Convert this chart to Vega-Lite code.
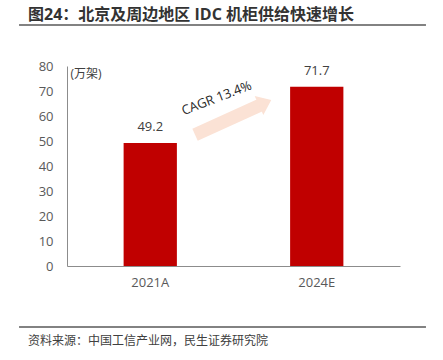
{
  "$schema": "https://vega.github.io/schema/vega-lite/v6.json",
  "width": 333,
  "height": 200,
  "autosize": "none",
  "padding": {"left": 67, "top": 66, "right": 43, "bottom": 94},
  "background": "white",
  "datasets": {
    "bars": [
      {"year": "2021A", "value": 49.2},
      {"year": "2024E", "value": 71.7}
    ],
    "arrow": [
      {"x": 0.769, "y": 52.5},
      {"x": 1.159, "y": 64.3}
    ],
    "arrowhead": [
      {"x": 1.19, "y": 65.3}
    ],
    "cagr": [
      {"x": 0.899, "y": 67.1, "label": "CAGR 13.4%"}
    ],
    "lines": [
      {"x": -0.288, "x2": 2.156, "y": 96.4},
      {"x": -0.288, "x2": 2.156, "y": -24.4}
    ],
    "texts": [
      {"x": -0.234, "y": -30, "label": "资料来源：中国工信产业网，民生证券研究院", "role": "source"}
    ],
    "heading": [
      {"x": -0.234, "y": 100.4, "label": "图24：北京及周边地区 IDC 机柜供给快速增长"}
    ]
  },
  "layer": [
    {
      "data": {"name": "bars"},
      "encoding": {
        "x": {
          "field": "year",
          "type": "nominal",
          "sort": null,
          "scale": {"paddingInner": 0.68, "paddingOuter": 0.34},
          "axis": {
            "title": null,
            "labelAngle": 0,
            "ticks": false,
            "tickSize": 0,
            "labelPadding": 10,
            "labelFontSize": 13,
            "labelColor": "#595959",
            "labelFont": "Open Sans, Noto Sans CJK SC",
            "domainColor": "#8c8c8c",
            "domainWidth": 1,
            "grid": false
          }
        },
        "y": {
          "field": "value",
          "type": "quantitative",
          "scale": {"domain": [0, 80], "nice": false},
          "axis": {
            "title": "(万架)",
            "titleAngle": 0,
            "titleX": 3,
            "titleY": 7,
            "titleAlign": "left",
            "titleBaseline": "middle",
            "titleFontSize": 12,
            "titleFontWeight": "normal",
            "titleColor": "#404040",
            "titleFont": "Open Sans, Noto Sans CJK SC",
            "values": [0, 10, 20, 30, 40, 50, 60, 70, 80],
            "tickCount": 9,
            "labelOverlap": false,
            "labelFlush": false,
            "ticks": false,
            "tickSize": 0,
            "labelPadding": 14,
            "labelFontSize": 13,
            "labelColor": "#595959",
            "labelFont": "Open Sans, Noto Sans CJK SC",
            "domainColor": "#8c8c8c",
            "domainWidth": 1,
            "grid": false
          }
        }
      },
      "layer": [
        {"mark": {"type": "bar", "color": "#C00000"}},
        {
          "mark": {
            "type": "text",
            "baseline": "alphabetic",
            "dy": -12,
            "fontSize": 13,
            "color": "#404040",
            "font": "Open Sans, Noto Sans CJK SC"
          },
          "encoding": {"text": {"field": "value", "type": "quantitative", "format": ".1f"}}
        }
      ]
    },
    {
      "layer": [
        {
          "data": {"name": "lines"},
          "mark": {"type": "rule", "color": "#595959", "strokeWidth": 1.5},
          "encoding": {
            "x": {"field": "x", "type": "quantitative", "scale": {"domain": [0, 2], "nice": false, "zero": false}, "axis": null},
            "x2": {"field": "x2"},
            "y": {"field": "y", "type": "quantitative", "scale": {"domain": [0, 80], "nice": false}, "axis": null}
          }
        },
        {
          "data": {"name": "arrow"},
          "mark": {"type": "line", "color": "#FBE2D5", "strokeWidth": 13, "strokeCap": "butt"},
          "encoding": {
            "x": {"field": "x", "type": "quantitative", "scale": {"domain": [0, 2], "nice": false, "zero": false}, "axis": null},
            "y": {"field": "y", "type": "quantitative", "axis": null}
          }
        },
        {
          "data": {"name": "arrowhead"},
          "mark": {
            "type": "point",
            "shape": "M 0.64 0 L -0.64 -1 L -0.64 1 Z",
            "size": 441,
            "angle": -24.4,
            "filled": true,
            "opacity": 1,
            "color": "#FBE2D5",
            "strokeWidth": 0
          },
          "encoding": {
            "x": {"field": "x", "type": "quantitative", "scale": {"domain": [0, 2], "nice": false, "zero": false}, "axis": null},
            "y": {"field": "y", "type": "quantitative", "axis": null}
          }
        },
        {
          "data": {"name": "cagr"},
          "mark": {
            "type": "text",
            "angle": -21,
            "align": "center",
            "baseline": "middle",
            "fontSize": 13,
            "color": "#262626",
            "font": "Open Sans, Noto Sans CJK SC"
          },
          "encoding": {
            "x": {"field": "x", "type": "quantitative", "scale": {"domain": [0, 2], "nice": false, "zero": false}, "axis": null},
            "y": {"field": "y", "type": "quantitative", "axis": null},
            "text": {"field": "label"}
          }
        },
        {
          "data": {"name": "texts"},
          "mark": {
            "type": "text",
            "align": "left",
            "baseline": "middle",
            "fontSize": 12,
            "color": "#404040",
            "font": "Open Sans, Noto Sans CJK SC"
          },
          "encoding": {
            "x": {"field": "x", "type": "quantitative", "scale": {"domain": [0, 2], "nice": false, "zero": false}, "axis": null},
            "y": {"field": "y", "type": "quantitative", "axis": null},
            "text": {"field": "label"}
          }
        },
        {
          "data": {"name": "heading"},
          "mark": {
            "type": "text",
            "align": "left",
            "baseline": "middle",
            "fontSize": 16,
            "fontWeight": "bold",
            "color": "#333333",
            "font": "Open Sans, Noto Sans CJK SC"
          },
          "encoding": {
            "x": {"field": "x", "type": "quantitative", "scale": {"domain": [0, 2], "nice": false, "zero": false}, "axis": null},
            "y": {"field": "y", "type": "quantitative", "axis": null},
            "text": {"field": "label"}
          }
        }
      ]
    }
  ],
  "resolve": {"scale": {"x": "independent"}, "axis": {"x": "independent", "y": "independent"}},
  "config": {"view": {"stroke": null}}
}
